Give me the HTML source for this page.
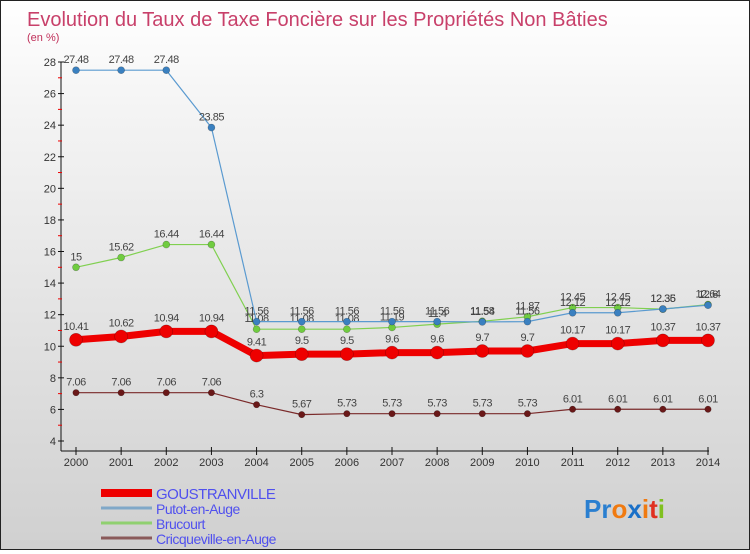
<!DOCTYPE html>
<html><head><meta charset="utf-8"><style>
html,body{margin:0;padding:0}
body{width:750px;height:550px;overflow:hidden;font-family:"Liberation Sans",sans-serif}
#wrap{position:relative;width:748px;height:548px;border:1px solid #222;background:linear-gradient(#ffffff,#f4f4f4 20%,#e2e2e2 60%,#d0d0d0)}
</style></head><body>
<div id="wrap">
<svg id="chart" width="748" height="548" font-family="Liberation Sans, sans-serif">
<text x="26" y="25" font-size="20" fill="#c8406a">Evolution du Taux de Taxe Foncière sur les Propriétés Non Bâties</text>
<text x="26" y="40" font-size="11" fill="#c0305a">(en %)</text>
<g id="axes"></g><g id="series"></g><g id="legend"></g>
<text x="583" y="517" font-size="26" font-weight="bold" fill="#2a7fd0">Pr<tspan fill="#f07a10">o</tspan><tspan fill="#1a70c8">x</tspan><tspan fill="#f07a10">i</tspan><tspan fill="#e03020">t</tspan><tspan fill="#80c020">i</tspan></text>
</svg>
</div>
<script>
const years=[2000,2001,2002,2003,2004,2005,2006,2007,2008,2009,2010,2011,2012,2013,2014];
const yTicks=[4,6,8,10,12,14,16,18,20,22,24,26,28];
const seriesNames=["GOUSTRANVILLE","Putot-en-Auge","Brucourt","Cricqueville-en-Auge"];
const goustranville=[10.41,10.62,10.94,10.94,9.41,9.5,9.5,9.6,9.6,9.7,9.7,10.17,10.17,10.37,10.37];
const putot=[27.48,27.48,27.48,23.85,11.56,11.56,11.56,11.56,11.56,11.54,11.56,12.12,12.12,12.36,12.6];
const brucourt=[15,15.62,16.44,16.44,11.08,11.08,11.08,11.19,11.4,11.58,11.87,12.45,12.45,12.35,12.64];
const cricq=[7.06,7.06,7.06,7.06,6.3,5.67,5.73,5.73,5.73,5.73,5.73,6.01,6.01,6.01,6.01];
const NS="http://www.w3.org/2000/svg";
const X=i=>75+i*(632/14);
const Y=v=>440-(v-4)*(379/24);
function mk(t,a,p){const e=document.createElementNS(NS,t);for(const k in a)e.setAttribute(k,a[k]);(p||document.getElementById('axes')).appendChild(e);return e;}
let e=mk('line',{x1:60,y1:Y(28),x2:60,y2:450,stroke:'#111'});


e=mk('line',{x1:60,y1:450,x2:708,y2:450,stroke:'#111'});


yTicks.forEach(v=>{
 mk('line',{x1:57,y1:Y(v),x2:63,y2:Y(v),stroke:'#111'});
 if(v<28)mk('line',{x1:57,y1:Y(v+1),x2:61,y2:Y(v+1),stroke:'#e00'});
 const t=mk('text',{x:55,y:Y(v)+4,'font-size':11,'text-anchor':'end',fill:'#333'});t.textContent=v;
 
 
});
years.forEach((y,i)=>{
 mk('line',{x1:X(i),y1:446,x2:X(i),y2:454,stroke:'#111'});
 const t=mk('text',{x:X(i),y:465,'font-size':11,'text-anchor':'middle',fill:'#333'});t.textContent=y;
 
 
});
const sg=document.getElementById('series');
const defs=[[cricq,'#7a2a2a','#6a1818',1.2,3.2,'cricqueville-line'],[brucourt,'#80d050','#70cc40',1.2,3.5,'brucourt-line'],[putot,'#5a9ad0','#3a80c0',1.2,3.5,'putot-line'],[goustranville,'#ee0000','#ee0000',7,6.5,'goustranville-line']];
defs.forEach(([d,c,pc,w,r,n])=>{
 const g=mk('g',{},sg);
 
 
 mk('polyline',{points:d.map((v,i)=>X(i)+','+Y(v)).join(' '),fill:'none',stroke:c,'stroke-width':w},g);
 d.forEach((v,i)=>{
  const p=mk('circle',{cx:X(i),cy:Y(v),r:r,fill:pc,stroke:'rgba(0,0,0,0.3)','stroke-width':0.6},g);
  
  
  const t=mk('text',{x:X(i),y:Y(v)-(w>5?10:7),'font-size':11,'text-anchor':'middle',fill:'#444','letter-spacing':'-0.5'},g);
  t.textContent=v;
  
  
 });
});
const lg=document.getElementById('legend');
const lc=['#ee0000','#80a8c8','#90d070','#8a5a5a'],lw=[8,3,3,3];
seriesNames.forEach((n,i)=>{
 const y=492+i*15;
 const g=mk('g',{},lg);
 
 
 mk('line',{x1:100,y1:y,x2:151,y2:y,stroke:lc[i],'stroke-width':lw[i]},g);
 const t=mk('text',{x:155,y:y+6,'font-size':i==0?15:14,fill:'#5050ee','letter-spacing':'-0.5'},g);t.textContent=n;
});
</script>
</body></html>
